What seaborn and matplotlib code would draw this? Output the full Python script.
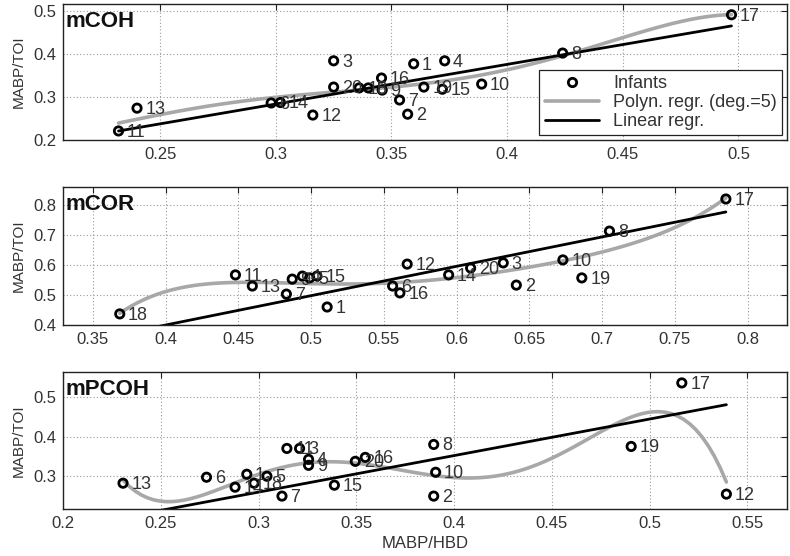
import numpy as np
import pandas as pd
import matplotlib
matplotlib.use("Agg")
import matplotlib.pyplot as plt
import seaborn as sns
from matplotlib.lines import Line2D

# ---------------- data ----------------
coh_id = [11, 13, 6, 14, 12, 3, 20, 18, 5, 9, 16, 7, 2, 1, 19, 15, 4, 10, 8, 17]
coh_x = [0.232, 0.240, 0.298, 0.302, 0.316, 0.325, 0.325, 0.336, 0.340, 0.346,
         0.3457, 0.3535, 0.357, 0.3596, 0.364, 0.372, 0.373, 0.389, 0.424, 0.497]
coh_y = [0.221, 0.274, 0.286, 0.287, 0.258, 0.384, 0.323, 0.321, 0.321, 0.316,
         0.344, 0.293, 0.260, 0.377, 0.323, 0.318, 0.384, 0.330, 0.402, 0.491]

cor_id = [18, 11, 13, 7, 9, 4, 5, 15, 1, 6, 16, 12, 14, 20, 3, 2, 10, 19, 8, 17]
cor_x = [0.3685, 0.448, 0.4596, 0.483, 0.487, 0.494, 0.499, 0.504, 0.511, 0.556,
         0.561, 0.566, 0.5945, 0.6096, 0.632, 0.641, 0.673, 0.686, 0.705, 0.785]
cor_y = [0.437, 0.567, 0.530, 0.503, 0.553, 0.563, 0.557, 0.563, 0.460, 0.530,
         0.507, 0.603, 0.567, 0.590, 0.607, 0.533, 0.617, 0.557, 0.713, 0.820]

pcoh_id = [13, 6, 14, 1, 18, 5, 7, 11, 3, 4, 9, 15, 20, 16, 8, 10, 2, 19, 17, 12]
pcoh_x = [0.2307, 0.2734, 0.288, 0.294, 0.2977, 0.3043, 0.312, 0.3145, 0.321, 0.3256,
          0.3256, 0.3388, 0.3495, 0.3546, 0.3896, 0.3906, 0.3896, 0.4906, 0.5165, 0.5393]
pcoh_y = [0.2825, 0.2975, 0.2725, 0.305, 0.2825, 0.300, 0.250, 0.370, 0.370, 0.3425,
          0.3275, 0.2775, 0.3375, 0.3475, 0.380, 0.310, 0.250, 0.375, 0.535, 0.255]

# linear regression lines (slope, intercept)
lin_slope = [0.921, 0.979, 0.92]
lin_intercept = [0.0073, 0.0083, -0.016]

panel_names = ["mCOH", "mCOR", "mPCOH"]
x_ticks = [[0.25, 0.3, 0.35, 0.4, 0.45, 0.5],
           [0.35, 0.4, 0.45, 0.5, 0.55, 0.6, 0.65, 0.7, 0.75, 0.8],
           [0.2, 0.25, 0.3, 0.35, 0.4, 0.45, 0.5, 0.55]]
y_ticks = [[0.2, 0.3, 0.4, 0.5],
           [0.4, 0.5, 0.6, 0.7, 0.8],
           [0.3, 0.4, 0.5]]
x_lims = [(0.208, 0.521), (0.3295, 0.827), (0.2, 0.5703)]
y_lims = [(0.2, 0.516), (0.4, 0.86), (0.2175, 0.5625)]
y_label = "MABP/TOI"
x_label = "MABP/HBD"
legend_labels = ["Infants", "Polyn. regr. (deg.=5)", "Linear regr."]

# ---------------- style ----------------
sns.set_style("white")
plt.rcParams["font.family"] = ["Liberation Sans", "DejaVu Sans"]
plt.rcParams["axes.edgecolor"] = "#222222"

fig = plt.figure(figsize=(7.9, 5.56), dpi=100)
positions = [
    [63 / 790, 1 - 140 / 556, (787 - 63) / 790, (140 - 4) / 556],
    [63 / 790, 1 - 325 / 556, (787 - 63) / 790, (325 - 187) / 556],
    [63 / 790, 1 - 509 / 556, (787 - 63) / 790, (509 - 372) / 556],
]

datasets = [(coh_x, coh_y, coh_id), (cor_x, cor_y, cor_id), (pcoh_x, pcoh_y, pcoh_id)]
poly_color = "#a8a8a8"
text_color = "#333333"

for i, (xs, ys, ids) in enumerate(datasets):
    ax = fig.add_axes(positions[i])
    df = pd.DataFrame({"x": xs, "y": ys, "id": ids})
    sns.regplot(data=df, x="x", y="y", ax=ax, scatter=False, order=5, ci=None,
                color=poly_color, line_kws={"lw": 2.6, "zorder": 2})
    lx = np.array([df["x"].min(), df["x"].max()])
    lin_df = pd.DataFrame({"x": lx, "y": lin_slope[i] * lx + lin_intercept[i]})
    sns.lineplot(data=lin_df, x="x", y="y", ax=ax, color="black", lw=2.0, zorder=2.5)
    sns.scatterplot(data=df, x="x", y="y", ax=ax, marker="o", s=36,
                    facecolor="none", edgecolor="black", linewidth=2.0, zorder=3)
    for _, r in df.iterrows():
        ax.annotate(str(int(r["id"])), (r["x"], r["y"]), xytext=(6, -1),
                    textcoords="offset points", va="center", ha="left",
                    fontsize=13, color=text_color, zorder=4)
    ax.set_xlim(*x_lims[i])
    ax.set_ylim(*y_lims[i])
    ax.set_xticks(x_ticks[i])
    ax.set_yticks(y_ticks[i])
    ax.set_xticklabels([f"{t:g}" for t in x_ticks[i]])
    ax.set_yticklabels([f"{t:g}" for t in y_ticks[i]])
    ax.grid(True, linestyle=(0, (1, 2)), color="#9a9a9a", linewidth=0.8)
    ax.set_axisbelow(True)
    ax.tick_params(direction="in", top=True, right=True, length=4, width=0.8,
                   labelsize=12, labelcolor=text_color, pad=5, color="#222222")
    for sp in ax.spines.values():
        sp.set_visible(True)
        sp.set_linewidth(1.0)
    ax.set_ylabel(y_label, fontsize=11, color=text_color, labelpad=5)
    ax.set_xlabel(x_label if i == 2 else "", fontsize=12, color=text_color, labelpad=4)
    ax.text(0.004, 0.95, panel_names[i], transform=ax.transAxes, ha="left", va="top",
            fontsize=16, fontweight="bold", color="#111111", zorder=5)
    if i == 0:
        handles = [
            Line2D([], [], marker="o", ls="none", markerfacecolor="none",
                   markeredgecolor="black", markeredgewidth=2.0, markersize=6),
            Line2D([], [], color=poly_color, lw=2.6),
            Line2D([], [], color="black", lw=2.0),
        ]
        leg = ax.legend(handles, legend_labels, loc="lower right", fontsize=13,
                        frameon=True, fancybox=False, edgecolor="#222222",
                        framealpha=1, borderpad=0.3, labelspacing=0.1,
                        handlelength=3.0, borderaxespad=0.25)
        leg.get_frame().set_linewidth(0.9)
        for t in leg.get_texts():
            t.set_color(text_color)

fig.savefig("out.png", dpi=100)
